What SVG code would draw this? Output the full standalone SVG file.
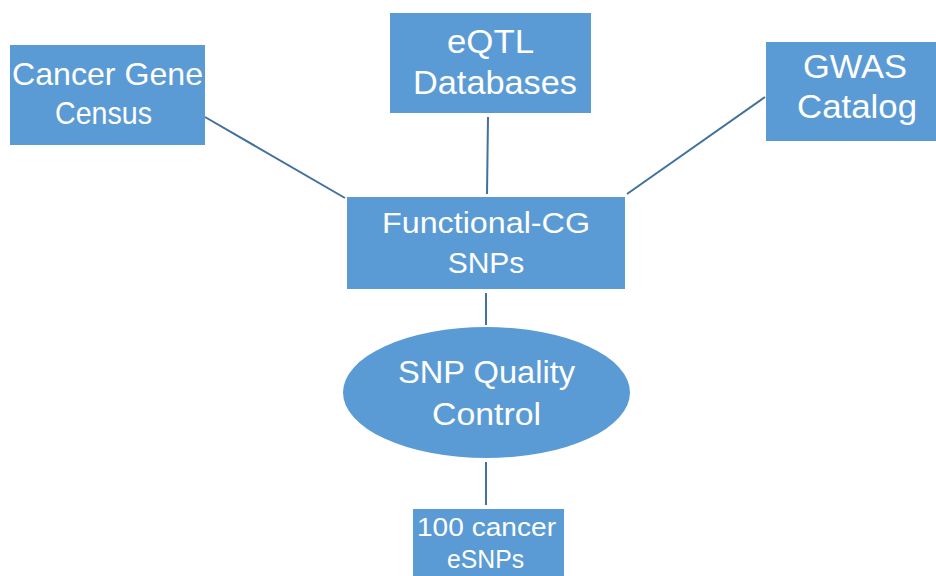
<svg xmlns="http://www.w3.org/2000/svg" width="936" height="576" viewBox="0 0 936 576">
<style>
.n{fill:#5b9bd5;}
.t{fill:#ffffff;font-family:"Liberation Sans","Open Sans",sans-serif;text-anchor:middle;}
.c{stroke:#41719c;stroke-width:2;fill:none;}
</style>
<rect width="936" height="576" fill="#ffffff"/>
<g id="connectors">
<line class="c" x1="205" y1="117" x2="345" y2="198"/>
<line class="c" x1="488" y1="117" x2="487" y2="194"/>
<line class="c" x1="765" y1="97" x2="627" y2="194"/>
<line class="c" x1="486" y1="293" x2="486" y2="325"/>
<line class="c" x1="486" y1="462" x2="486" y2="505"/>
</g>
<g id="cancer-gene-census">
<rect class="n" x="10" y="45" width="195" height="100"/>
<text class="t" font-size="32" x="107.5" y="85" textLength="191" lengthAdjust="spacingAndGlyphs">Cancer Gene</text>
<text class="t" font-size="32" x="103.5" y="124" textLength="97" lengthAdjust="spacingAndGlyphs">Census</text>
</g>
<g id="eqtl-databases">
<rect class="n" x="390" y="13" width="201" height="100"/>
<text class="t" font-size="34" x="490.5" y="53" textLength="87" lengthAdjust="spacingAndGlyphs">eQTL</text>
<text class="t" font-size="34" x="495" y="94" textLength="164" lengthAdjust="spacingAndGlyphs">Databases</text>
</g>
<g id="gwas-catalog">
<rect class="n" x="766" y="42" width="170" height="99"/>
<text class="t" font-size="33" x="855" y="78" textLength="104" lengthAdjust="spacingAndGlyphs">GWAS</text>
<text class="t" font-size="33" x="857" y="118" textLength="120" lengthAdjust="spacingAndGlyphs">Catalog</text>
</g>
<g id="functional-cg-snps">
<rect class="n" x="347" y="197" width="278" height="92"/>
<text class="t" font-size="30" x="486" y="233" textLength="208" lengthAdjust="spacingAndGlyphs">Functional-CG</text>
<text class="t" font-size="30" x="486" y="273">SNPs</text>
</g>
<g id="snp-quality-control">
<ellipse class="n" cx="486.5" cy="392.5" rx="143.5" ry="65.5"/>
<text class="t" font-size="31" x="486.5" y="383" textLength="177" lengthAdjust="spacingAndGlyphs">SNP Quality</text>
<text class="t" font-size="31" x="486.5" y="425" textLength="109" lengthAdjust="spacingAndGlyphs">Control</text>
</g>
<g id="cancer-esnps">
<rect class="n" x="413" y="509" width="151" height="70"/>
<text class="t" font-size="26" x="486.5" y="536" textLength="139" lengthAdjust="spacingAndGlyphs">100 cancer</text>
<text class="t" font-size="26" x="485.5" y="568" textLength="77" lengthAdjust="spacingAndGlyphs">eSNPs</text>
</g>
</svg>
